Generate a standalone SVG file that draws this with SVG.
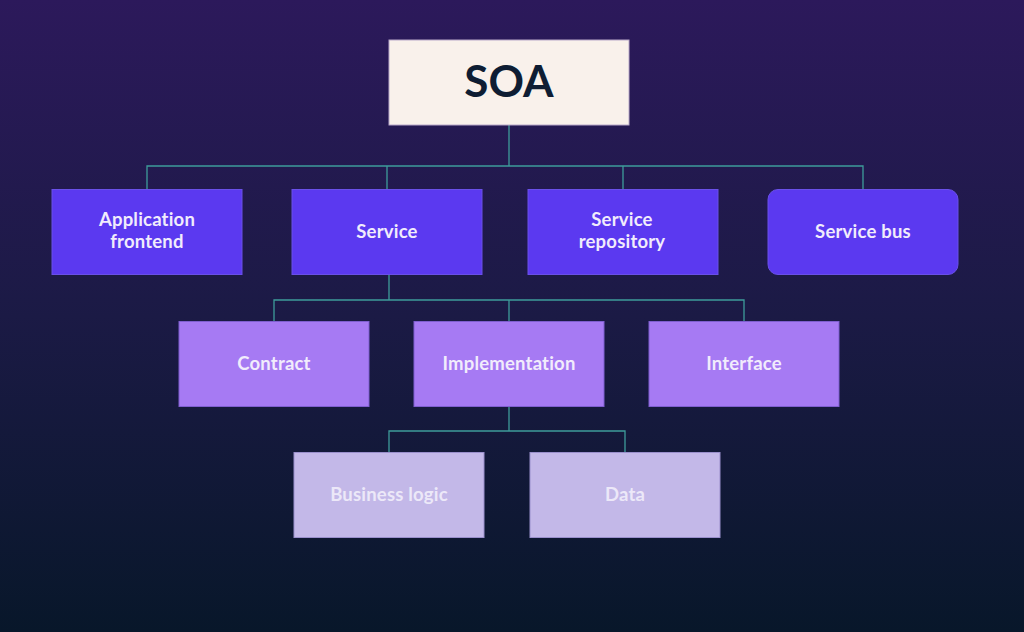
<svg xmlns="http://www.w3.org/2000/svg" width="1024" height="632" viewBox="0 0 1024 632">
<defs>
<linearGradient id="bg" x1="0" y1="0" x2="0" y2="1">
<stop offset="0" stop-color="#2c195b"/>
<stop offset="0.5" stop-color="#1b1a45"/>
<stop offset="1" stop-color="#08172a"/>
</linearGradient>
</defs>
<style>
.l1{fill:#5b39f0;stroke:#6a50e8;stroke-width:1}
.l2{fill:#a67af3;stroke:#7f5fd0;stroke-width:1}
.l3{fill:#c3b8e8;stroke:#9a8fcc;stroke-width:1}
.t{font-family:Lato,"Open Sans",sans-serif;font-size:18.5px;font-weight:700;fill:#f1ecfc;text-anchor:middle;letter-spacing:0.2px}
.t3{fill:#ece8f8}
.c{fill:none;stroke:#3e9c9a;stroke-width:1.3}
</style>
<rect width="1024" height="632" fill="url(#bg)"/>
<g id="connectors">
<path class="c" d="M509 125V166M147 189V166H863V189M387 166V189M623 166V189"/>
<path class="c" d="M389 275V300M274 321V300H744V321M509 300V321"/>
<path class="c" d="M509 407V431M389 452V431H625V452"/>
</g>
<g id="soa">
<rect x="389" y="40" width="240" height="85" fill="#f9f1eb" stroke="#b9a9c9" stroke-width="1"/>
<text x="509" y="97" font-family="Lato,'Open Sans',sans-serif" font-size="44" font-weight="700" fill="#0e1d33" text-anchor="middle">SOA</text>
</g>
<g id="app-frontend">
<rect class="l1" x="52" y="189.5" width="190" height="85"/>
<text class="t" x="147" y="226">Application</text>
<text class="t" x="147" y="248">frontend</text>
</g>
<g id="service">
<rect class="l1" x="292" y="189.5" width="190" height="85"/>
<text class="t" x="387" y="238">Service</text>
</g>
<g id="service-repository">
<rect class="l1" x="528" y="189.5" width="190" height="85"/>
<text class="t" x="622" y="226">Service</text>
<text class="t" x="622" y="248">repository</text>
</g>
<g id="service-bus">
<rect class="l1" x="768" y="189.5" width="190" height="85" rx="10"/>
<text class="t" x="863" y="238">Service bus</text>
</g>
<g id="contract">
<rect class="l2" x="179" y="321.5" width="190" height="85"/>
<text class="t" x="274" y="370">Contract</text>
</g>
<g id="implementation">
<rect class="l2" x="414" y="321.5" width="190" height="85"/>
<text class="t" x="509" y="370">Implementation</text>
</g>
<g id="interface">
<rect class="l2" x="649" y="321.5" width="190" height="85"/>
<text class="t" x="744" y="370">Interface</text>
</g>
<g id="business-logic">
<rect class="l3" x="294" y="452.5" width="190" height="85"/>
<text class="t t3" x="389" y="501">Business logic</text>
</g>
<g id="data">
<rect class="l3" x="530" y="452.5" width="190" height="85"/>
<text class="t t3" x="625" y="501">Data</text>
</g>
</svg>
